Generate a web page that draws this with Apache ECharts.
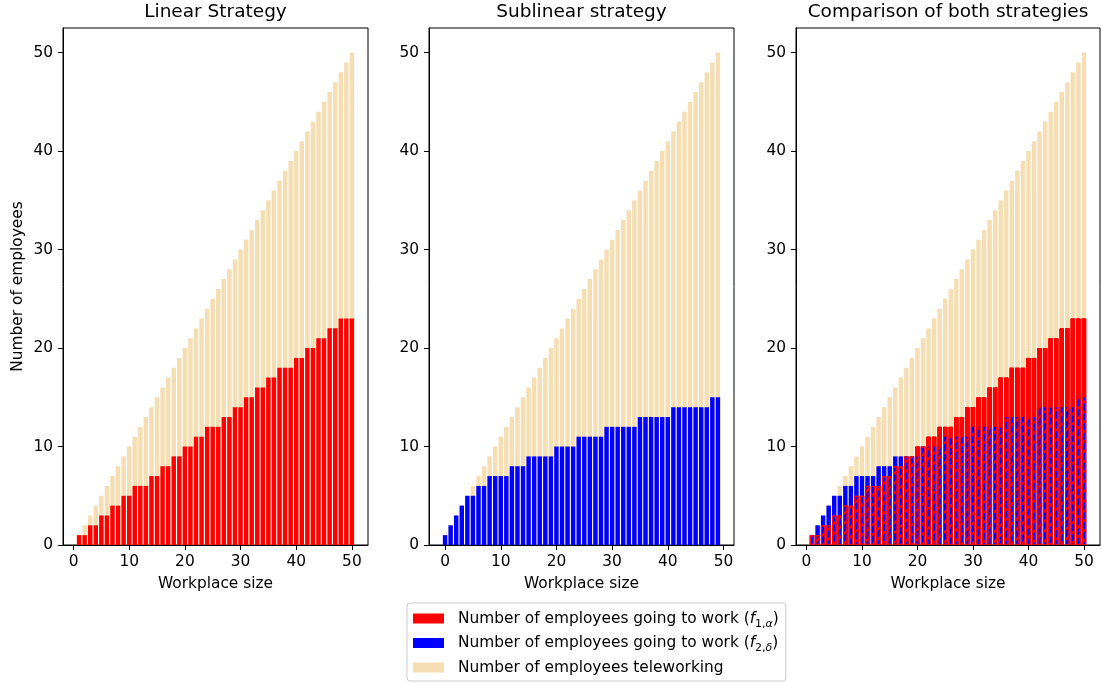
<!DOCTYPE html>
<html>
<head>
<meta charset="utf-8">
<script src="https://cdn.jsdelivr.net/npm/echarts@6/dist/echarts.min.js"></script>
<style>
html,body{margin:0;padding:0;background:#fff;}
#c{width:1102px;height:684px;}
</style>
</head>
<body>
<div id="c"></div>
<script>
// ---- data ----
const workplaceSizes = [1,2,3,4,5,6,7,8,9,10,11,12,13,14,15,16,17,18,19,20,21,22,23,24,25,26,27,28,29,30,31,32,33,34,35,36,37,38,39,40,41,42,43,44,45,46,47,48,49,50];
const sublinearPositions = [0,1,2,3,4,5,6,7,8,9,10,11,12,13,14,15,16,17,18,19,20,21,22,23,24,25,26,27,28,29,30,31,32,33,34,35,36,37,38,39,40,41,42,43,44,45,46,47,48,49];
const totalEmployees = [1,2,3,4,5,6,7,8,9,10,11,12,13,14,15,16,17,18,19,20,21,22,23,24,25,26,27,28,29,30,31,32,33,34,35,36,37,38,39,40,41,42,43,44,45,46,47,48,49,50];
const linearGoing = [1,1,2,2,3,3,4,4,5,5,6,6,6,7,7,8,8,9,9,10,10,11,11,12,12,12,13,13,14,14,15,15,16,16,17,17,18,18,18,19,19,20,20,21,21,22,22,23,23,23];
const sublinearGoing = [1,2,3,4,5,5,6,6,7,7,7,7,8,8,8,9,9,9,9,9,10,10,10,10,11,11,11,11,11,12,12,12,12,12,12,13,13,13,13,13,13,14,14,14,14,14,14,14,15,15];
const xTicks = [0,10,20,30,40,50];
const yTicks = [0,10,20,30,40,50];
const titles = ['Linear Strategy', 'Sublinear strategy', 'Comparison of both strategies'];
const legendNames = ['f1', 'f2', 'tele'];

// ---- styling ----
const FONT = 'DejaVu Sans';
const FS = 15.4, TFS = 18.5;
const RED = '#ff0000', BLUE = '#0000ff', WHEAT = '#f5deb3';
const grids = [
  {left: 63, top: 28, width: 305, height: 517},
  {left: 429, top: 28, width: 305, height: 517},
  {left: 796, top: 28, width: 304, height: 517}
];
const xRanges = [[-1.89, 52.89], [-2.89, 51.89], [-1.89, 52.89]];
const BW = 4.45;

function pairs(xs, ys){ return xs.map((x,i)=>[x, ys[i]]); }

const xAxes = grids.map((g,i)=>({
  type: 'value', gridIndex: i, min: xRanges[i][0], max: xRanges[i][1],
  splitLine: {show:false},
  axisLine: {show:true, onZero:false, lineStyle:{color:'#000', width:1}},
  axisTick: {show:true, length:5, lineStyle:{color:'#000'}, customValues: xTicks},
  axisLabel: {color:'#000', fontFamily: FONT, fontSize: FS, margin: 9, customValues: xTicks},
  name: 'Workplace size', nameLocation: 'middle', nameGap: 31,
  nameTextStyle: {color:'#000', fontFamily: FONT, fontSize: FS}
}));
const yAxes = grids.map((g,i)=>({
  type: 'value', gridIndex: i, min: 0, max: 52.5,
  splitLine: {show:false},
  axisLine: {show:true, onZero:false, lineStyle:{color:'#000', width:1}},
  axisTick: {show:true, length:5, lineStyle:{color:'#000'}, customValues: yTicks},
  axisLabel: {color:'#000', fontFamily: FONT, fontSize: FS, margin: 10, customValues: yTicks},
  name: i === 0 ? 'Number of employees' : '', nameLocation: 'middle', nameGap: 38,
  nameTextStyle: {color:'#000', fontFamily: FONT, fontSize: FS}
}));

function bar(name, idx, data, color, extra){
  return Object.assign({
    type: 'bar', name: name, xAxisIndex: idx, yAxisIndex: idx,
    data: data, barWidth: BW, barGap: '-100%', animation: false,
    itemStyle: {color: color}, emphasis: {disabled: true}, silent: true
  }, extra || {});
}

const series = [
  bar('tele', 0, pairs(workplaceSizes, totalEmployees), WHEAT),
  bar('f1', 0, pairs(workplaceSizes, linearGoing), RED),
  bar('tele', 1, pairs(sublinearPositions, totalEmployees), WHEAT),
  bar('f2', 1, pairs(sublinearPositions, sublinearGoing), BLUE),
  bar('tele', 2, pairs(workplaceSizes, totalEmployees), WHEAT),
  bar('f1', 2, pairs(workplaceSizes, linearGoing), RED),
  bar('f2', 2, pairs(workplaceSizes, sublinearGoing), BLUE),
  bar('hatch', 2, pairs(workplaceSizes, linearGoing), 'rgba(0,0,0,0)', {
    itemStyle: {
      color: 'rgba(0,0,0,0)', borderColor: RED, borderWidth: 1,
      decal: {
        symbol: 'rect', symbolSize: 1, color: RED, backgroundColor: 'rgba(0,0,0,0)',
        dashArrayX: [1, 0], dashArrayY: [2, 5], rotation: -Math.PI / 4
      }
    }
  })
];

const legendLabels = {
  f1: '{n|Number of employees going to work (}{i|f}{s|1,}{si|α}{n|)}',
  f2: '{n|Number of employees going to work (}{i|f}{s|2,}{si|δ}{n|)}',
  tele: '{n|Number of employees teleworking}'
};

const option = {
  backgroundColor: '#fff',
  animation: false,
  title: titles.map((t,i)=>({
    text: t, left: grids[i].left + grids[i].width/2, top: 3, textAlign: 'center', padding: 0,
    textStyle: {fontFamily: FONT, fontSize: TFS, fontWeight: 'normal', color: '#000'}
  })),
  grid: grids.map(g=>Object.assign({show:true, borderColor:'#000', borderWidth:1, backgroundColor:'transparent', containLabel:false}, g)),
  xAxis: xAxes,
  yAxis: yAxes,
  legend: {
    data: legendNames, orient: 'vertical', left: 407, top: 603,
    padding: [8, 7, 6, 6], itemGap: 6, itemWidth: 31, itemHeight: 10, icon: 'rect',
    backgroundColor: '#fff', borderColor: '#cccccc', borderWidth: 1, borderRadius: 3,
    selectedMode: false,
    formatter: name => legendLabels[name],
    textStyle: {
      color: '#000', fontFamily: FONT, fontSize: FS, padding: [0,0,0,9],
      rich: {
        n: {fontFamily: FONT, fontSize: FS, lineHeight: 22, color: '#000'},
        i: {fontFamily: FONT, fontSize: FS, lineHeight: 22, fontStyle: 'italic', color: '#000'},
        s: {fontFamily: FONT, fontSize: 11, lineHeight: 13, verticalAlign: 'bottom', color: '#000'},
        si: {fontFamily: FONT, fontSize: 11, lineHeight: 13, verticalAlign: 'bottom', fontStyle: 'italic', color: '#000'}
      }
    }
  },
  series: series
};

const chart = echarts.init(document.getElementById('c'), null, {renderer: 'canvas'});
chart.setOption(option);
</script>
</body>
</html>
